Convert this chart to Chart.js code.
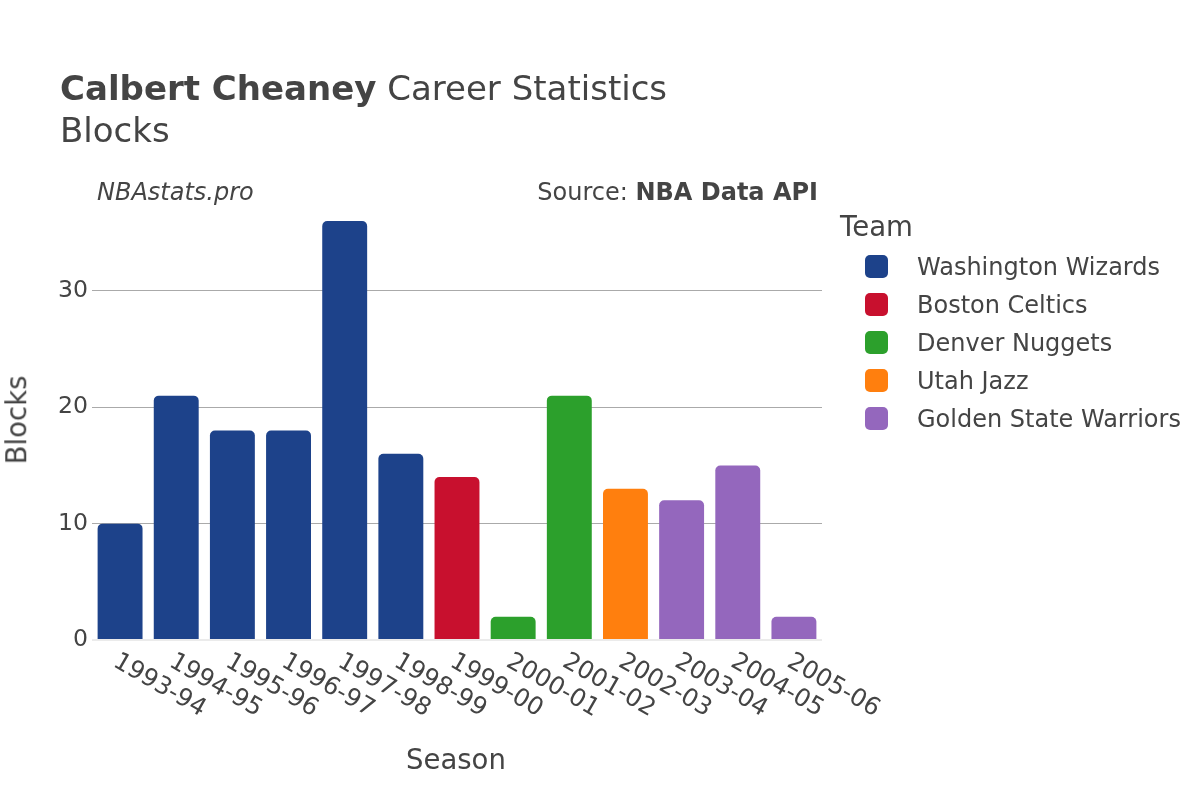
<!DOCTYPE html>
<html>
<head>
<meta charset="utf-8">
<script src="https://cdn.jsdelivr.net/npm/chart.js@4"></script>
<style>
  html, body { margin:0; padding:0; background:#fff; }
  #wrap { position:relative; width:1200px; height:800px; font-family:"DejaVu Sans", sans-serif; color:#444; }
  canvas { position:absolute; left:0; top:0; }
  .abs { position:absolute; white-space:nowrap; line-height:1; }
  .sw { position:absolute; width:23px; height:23px; border-radius:5px; }
</style>
</head>
<body>
<div id="wrap">
  <canvas id="c" width="1200" height="800"></canvas>
  <div class="abs" style="left:60px; top:71px; font-size:34px;"><b>Calbert Cheaney</b> Career Statistics</div>
  <div class="abs" style="left:60px; top:113px; font-size:34px;">Blocks</div>
  <div class="abs" style="left:97px; top:180px; font-size:24px; font-style:italic;">NBAstats.pro</div>
  <div class="abs" style="right:382px; top:180px; font-size:24px;">Source: <b>NBA Data API</b></div>
  <div class="abs" style="left:406px; top:746px; font-size:27.5px;">Season</div>
  <div class="abs" style="left:17px; top:420px; font-size:27.5px; transform:translate(-50%,-50%) rotate(-90deg);">Blocks</div>
  <div id="legend"></div>
</div>
<script>
const seasons = ["1993-94","1994-95","1995-96","1996-97","1997-98","1998-99","1999-00","2000-01","2001-02","2002-03","2003-04","2004-05","2005-06"];
const teams = ["Washington Wizards","Boston Celtics","Denver Nuggets","Utah Jazz","Golden State Warriors"];
const teamColors = ["#1d428a","#c8102e","#2ca02c","#ff7f0e","#9467bd"];
const seasonTeam = ["Washington Wizards","Washington Wizards","Washington Wizards","Washington Wizards","Washington Wizards","Washington Wizards","Boston Celtics","Denver Nuggets","Denver Nuggets","Utah Jazz","Golden State Warriors","Golden State Warriors","Golden State Warriors"];
const blocks = [10,21,18,18,36,16,14,2,21,13,12,15,2];
const yTicks = [0,10,20,30];
const yMax = 37.9;

const datasets = teams.map((t, k) => ({
  label: t,
  data: blocks.map((v, i) => seasonTeam[i] === t ? v : null),
  backgroundColor: teamColors[k],
  borderWidth: 0,
  borderRadius: 5,
  borderSkipped: 'bottom',
  barPercentage: 0.8,
  categoryPercentage: 1.0,
  grouped: false
}));

// HTML legend
const lg = document.getElementById('legend');
let html = '<div class="abs" style="left:840px; top:213px; font-size:27.6px;">Team</div>';
teams.forEach((t, k) => {
  const cy = 266 + k * 38;
  html += `<div class="sw" style="left:865px; top:${cy-11.5}px; background:${teamColors[k]};"></div>`;
  html += `<div class="abs" style="left:917px; top:${cy-11}px; font-size:24px;">${t}</div>`;
});
lg.innerHTML = html;

const xLabelPlugin = {
  id: 'xLabels',
  afterDraw(chart) {
    const ctx = chart.ctx;
    const xs = chart.scales.x;
    ctx.save();
    ctx.font = '24.5px "DejaVu Sans"';
    ctx.fillStyle = '#444';
    ctx.textAlign = 'left';
    ctx.textBaseline = 'middle';
    seasons.forEach((s, i) => {
      const px = xs.getPixelForValue(i);
      ctx.save();
      ctx.translate(px - 5, 660);
      ctx.rotate(Math.PI / 6);
      ctx.fillText(s, 0, 0);
      ctx.restore();
    });
    ctx.restore();
  }
};

new Chart(document.getElementById('c'), {
  type: 'bar',
  data: { labels: seasons, datasets },
  options: {
    responsive: false,
    animation: false,
    layout: { padding: { top: 199, right: 378, left: 0, bottom: 0 } },
    plugins: { legend: { display: false }, tooltip: { enabled: false } },
    scales: {
      x: {
        grid: { display: false },
        border: { display: false },
        ticks: { display: false },
        afterFit(s) { s.height = 160; }
      },
      y: {
        min: 0, max: yMax,
        afterBuildTicks(s) { s.ticks = yTicks.map(v => ({ value: v })); },
        afterFit(s) { s.width = 92; },
        border: { display: false },
        grid: {
          drawTicks: false,
          color: c => c.tick && c.tick.value === 0 ? '#ebebeb' : '#aaaaaa',
          lineWidth: c => c.tick && c.tick.value === 0 ? 2 : 1
        },
        ticks: {
          padding: 4,
          color: '#444',
          font: { family: 'DejaVu Sans', size: 23.6 }
        }
      }
    }
  },
  plugins: [xLabelPlugin]
});
</script>
</body>
</html>
